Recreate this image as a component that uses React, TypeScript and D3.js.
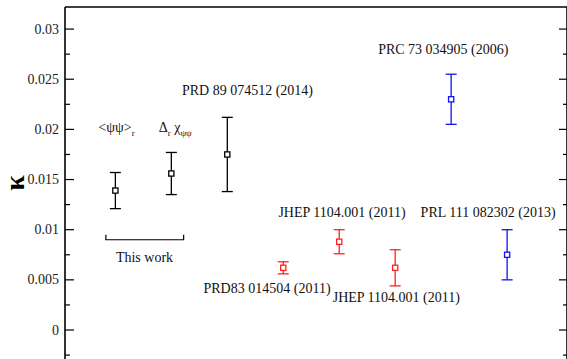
import React from "react";
import * as d3 from "d3";

// Slot index of each determination along the horizontal axis
const slots = [1, 2, 3, 4, 5, 6, 7, 8];
// Central values of kappa
const kappaValues = [0.0139, 0.0156, 0.0175, 0.0062, 0.0088, 0.0062, 0.023, 0.0075];
// Symmetric uncertainties
const kappaErrors = [0.0018, 0.0021, 0.0037, 0.0006, 0.0012, 0.0018, 0.0025, 0.0025];
// Colour group of each point
const pointGroups = ["black", "black", "black", "red", "red", "red", "blue", "blue"];

// Reference labels: text, horizontal slot of centre, kappa at baseline
const refTexts = [
  "PRD 89 074512 (2014)",
  "PRC 73 034905 (2006)",
  "JHEP 1104.001 (2011)",
  "PRD83 014504 (2011)",
  "JHEP 1104.001 (2011)",
  "PRL 111 082302 (2013)",
];
const refSlots = [3.36, 6.86, 5.05, 3.71, 6.02, 7.66];
const refKappa = [0.0234, 0.0275, 0.01125, 0.00369, 0.00279, 0.01125];

const yMajorTicks = [0, 0.005, 0.01, 0.015, 0.02, 0.025, 0.03];
const yMinorTicks = [-0.0025, 0.0025, 0.0075, 0.0125, 0.0175, 0.0225, 0.0275];
const yTickLabels = ["0", "0.005", "0.01", "0.015", "0.02", "0.025", "0.03"];

const colorMap: Record<string, string> = {
  black: "#000000",
  red: "#ff2020",
  blue: "#1010ff",
};

const W = 567;
const H = 359;
const textStyle: React.CSSProperties = {
  fontFamily: "Liberation Serif, DejaVu Serif, serif",
};

export default function App() {
  const x = d3.scaleLinear().domain([0.1, 9.07]).range([65, 567]);
  const y = d3.scaleLinear().domain([-0.003, 0.0322]).range([360.1, 7]);
  const left = x(0.1);
  const right = x(9.07);
  const top = y(0.0322);
  const bottom = y(-0.003);
  const cap = 5.5;
  const box = 2.6;

  return (
    <svg
      width={W}
      height={H}
      style={{ position: "absolute", left: 0, top: 0, background: "#fff" }}
    >
      {/* frame */}
      <line x1={left} x2={left} y1={top} y2={bottom} stroke="#000" strokeWidth={1.6} />
      <line x1={left} x2={right} y1={top} y2={top} stroke="#000" strokeWidth={1.6} />
      <line x1={right} x2={right} y1={top} y2={bottom} stroke="#000" strokeWidth={1.6} />

      {/* ticks, pointing inward on both sides */}
      {yMajorTicks.map((t, i) => (
        <g key={"M" + i}>
          <line x1={left} x2={left + 9} y1={y(t)} y2={y(t)} stroke="#000" strokeWidth={1.2} />
          <line x1={right - 8} x2={right} y1={y(t)} y2={y(t)} stroke="#000" strokeWidth={1.2} />
          <text
            x={59}
            y={y(t)}
            textAnchor="end"
            dominantBaseline="central"
            fontSize={14}
            fill="#222"
            style={textStyle}
          >
            {yTickLabels[i]}
          </text>
        </g>
      ))}
      {yMinorTicks.map((t, i) => (
        <g key={"m" + i}>
          <line x1={left} x2={left + 5} y1={y(t)} y2={y(t)} stroke="#000" strokeWidth={1.2} />
          <line x1={right - 4} x2={right} y1={y(t)} y2={y(t)} stroke="#000" strokeWidth={1.2} />
        </g>
      ))}

      {/* axis title */}
      <text
        transform={`translate(24,183) rotate(-90)`}
        textAnchor="middle"
        fontSize={28}
        fontWeight="bold"
        fill="#000"
        style={textStyle}
      >
        κ
      </text>

      {/* error bars with open square markers */}
      {slots.map((s, i) => {
        const cx = x(s);
        const c = colorMap[pointGroups[i]];
        const yHi = y(kappaValues[i] + kappaErrors[i]);
        const yLo = y(kappaValues[i] - kappaErrors[i]);
        const cy = y(kappaValues[i]);
        return (
          <g key={"p" + i} stroke={c} strokeWidth={1.3} fill="none">
            <line x1={cx} x2={cx} y1={yHi} y2={yLo} />
            <line x1={cx - cap} x2={cx + cap} y1={yHi} y2={yHi} />
            <line x1={cx - cap} x2={cx + cap} y1={yLo} y2={yLo} />
            <rect x={cx - box} y={cy - box} width={box * 2} height={box * 2} fill="#fff" />
          </g>
        );
      })}

      {/* labels of this work */}
      <text x={x(1.02)} y={y(0.0197)} textAnchor="middle" fontSize={14} fill="#111" style={textStyle}>
        &lt;ψψ&gt;
        <tspan fontSize={9} dy={4}>r</tspan>
      </text>
      <text x={x(2.07)} y={y(0.0197)} textAnchor="middle" fontSize={14} fill="#111" style={textStyle}>
        Δ<tspan fontSize={9} dy={4}>r</tspan>
        <tspan dy={-4}> χ</tspan>
        <tspan fontSize={9} dy={4}>ψψ</tspan>
      </text>

      {/* bracket grouping this work */}
      <path
        d={`M${x(0.83)},${y(0.0095)} V${y(0.009)} H${x(2.22)} V${y(0.0095)}`}
        stroke="#000"
        strokeWidth={1.2}
        fill="none"
      />
      <text x={x(1.52)} y={y(0.0068)} textAnchor="middle" fontSize={14} fill="#111" style={textStyle}>
        This work
      </text>

      {/* reference labels */}
      {refTexts.map((t, i) => (
        <text
          key={"r" + i}
          x={x(refSlots[i])}
          y={y(refKappa[i])}
          textAnchor="middle"
          fontSize={14}
          fill="#111"
          style={textStyle}
        >
          {t}
        </text>
      ))}
    </svg>
  );
}
